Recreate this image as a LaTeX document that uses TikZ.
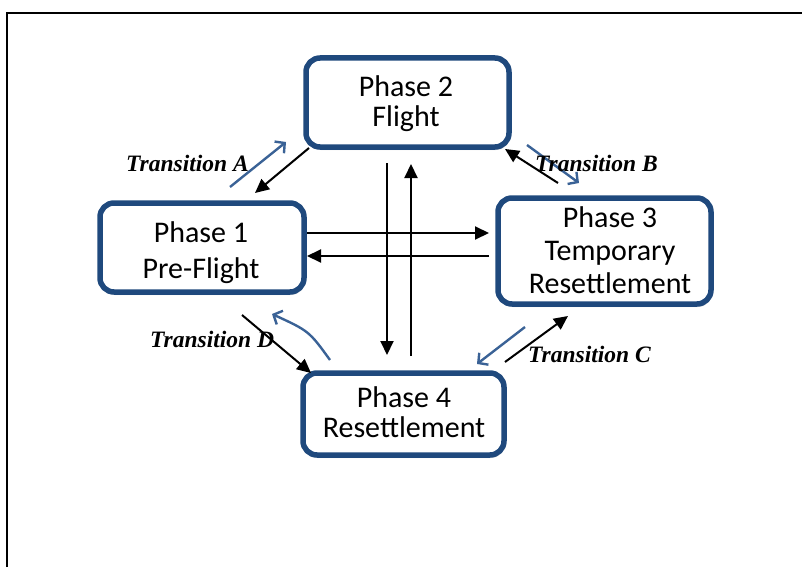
\documentclass[tikz,border=0pt]{standalone}
\usepackage{fontspec}
\setmainfont{Liberation Serif}
\newfontfamily\boxfont{Carlito}
\usetikzlibrary{arrows.meta,shadows}
\definecolor{boxblue}{RGB}{31,73,125}
\definecolor{arrblue}{RGB}{58,98,150}
\tikzset{
  phasebox/.style={draw=boxblue, line width=5.5pt, rounded corners=14pt, fill=white,
    inner sep=0pt,
    drop shadow={opacity=0.25, shadow xshift=1pt, shadow yshift=-3pt}},
  boxtext/.style={anchor=base, inner sep=0pt, font=\boxfont\fontsize{30}{32}\selectfont},
  blk/.style={line width=2pt, -{Triangle[length=14pt,width=13pt]}},
  blu/.style={draw=arrblue, line width=2.4pt, -{Straight Barb[length=7pt,width=15pt,line width=2.4pt]}},
  trlabel/.style={anchor=base west, inner sep=0pt, font=\bfseries\itshape\fontsize{23.5}{26}\selectfont}
}
\begin{document}
\begin{tikzpicture}[x=1pt,y=-1pt]
\useasboundingbox (0,0) rectangle (802,567);
\draw[line width=2pt] (7,567) -- (7,13) -- (805,13);

% phase boxes
\node[phasebox, minimum width=203pt, minimum height=89pt] (p2) at (407.5,102.5) {};
\node[phasebox, minimum width=204pt, minimum height=89pt] (p1) at (202,247.5) {};
\node[phasebox, minimum width=213pt, minimum height=106pt] (p3) at (604.5,251) {};
\node[phasebox, minimum width=201pt, minimum height=82pt] (p4) at (403.5,414) {};

% box texts
\node[boxtext] (p2a) at (406,97) {Phase 2};
\node[boxtext] (p2b) at (406,126) {Flight};
\node[boxtext] (p1a) at (201,242) {Phase 1};
\node[boxtext] (p1b) at (201,278) {Pre-Flight};
\node[boxtext] (p3a) at (610,227) {Phase 3};
\node[boxtext] (p3b) at (610,260) {Temporary};
\node[boxtext] (p3c) at (610,293) {Resettlement};
\node[boxtext] (p4a) at (404,407) {Phase 4};
\node[boxtext] (p4b) at (404,437) {Resettlement};

% central arrows
\coordinate (d1) at (387,163);
\coordinate (d2) at (387,355);
\coordinate (u1) at (411,356);
\coordinate (u2) at (411,164);
\coordinate (r1) at (307,233);
\coordinate (r2) at (489,233);
\coordinate (l1) at (489,256);
\coordinate (l2) at (307,256);
\draw[blk] (d1) -- (d2);
\draw[blk] (u1) -- (u2);
\draw[blk] (r1) -- (r2);
\draw[blk] (l1) -- (l2);

% transition A
\coordinate (a1) at (309,148);
\coordinate (a2) at (255,193);
\coordinate (ab1) at (230,187);
\coordinate (ab2) at (286,142);
\draw[blk] (a1) -- (a2);
\draw[blu] (ab1) -- (ab2);
\node[trlabel] (ta) at (126,171) {Transition A};

% transition B
\coordinate (b1) at (558,183);
\coordinate (b2) at (505,149);
\coordinate (bb1) at (527,145);
\coordinate (bb2) at (579,183);
\draw[blk] (b1) -- (b2);
\draw[blu] (bb1) -- (bb2);
\node[trlabel] (tb) at (535,171) {Transition B};

% transition C
\coordinate (c1) at (505,362);
\coordinate (c2) at (568,316);
\coordinate (cb1) at (525,327);
\coordinate (cb2) at (477,364);
\draw[blk] (c1) -- (c2);
\draw[blu] (cb1) -- (cb2);
\node[trlabel] (tc) at (528,362) {Transition C};

% transition D
\coordinate (e1) at (242,315);
\coordinate (e2) at (311,373);
\coordinate (eb1) at (330,360);
\coordinate (eb2) at (272,314);
\draw[blk] (e1) -- (e2);
\draw[blu] (eb1) .. controls (309,331) .. (eb2);
\node[trlabel] (td) at (150,347) {Transition D};
\end{tikzpicture}
\end{document}
